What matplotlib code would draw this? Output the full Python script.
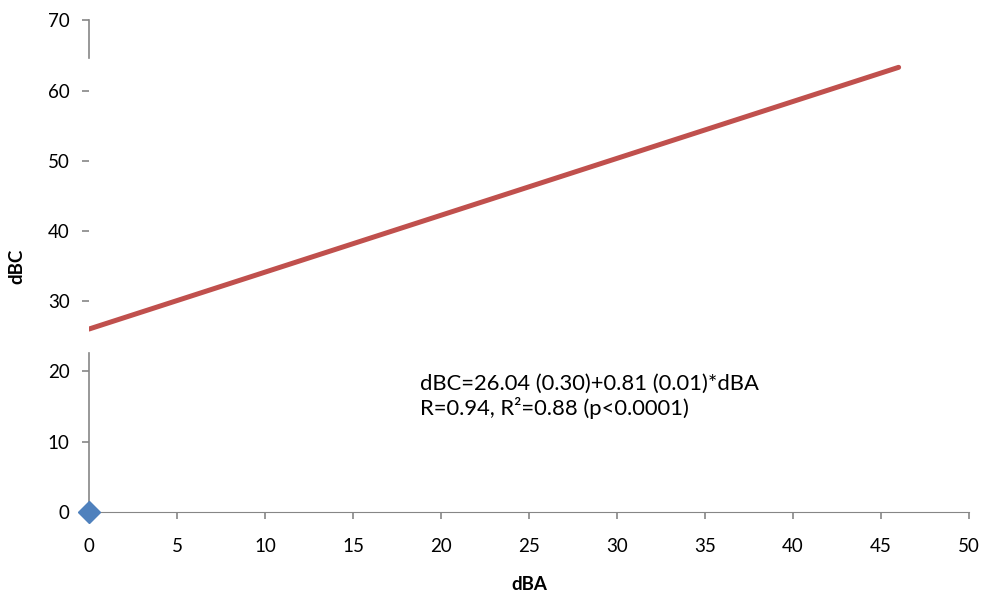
import numpy as np
import matplotlib.pyplot as plt

# fitted line and single observed point
dBA_fit = [0, 46]
intercept = 26.04
slope = 0.81
dBA_pts = [0]
dBC_pts = [0]
x_ticks = [0, 5, 10, 15, 20, 25, 30, 35, 40, 45, 50]
y_ticks = [0, 10, 20, 30, 40, 50, 60, 70]
note = "dBC=26.04 (0.30)+0.81 (0.01)*dBA\nR=0.94, R²=0.88 (p<0.0001)"

plt.rcParams['font.family'] = ['Lato', 'DejaVu Sans']
grey = '#868686'

fig = plt.figure(figsize=(9.82, 5.96), dpi=100)
ax = fig.add_axes([0.0906, 0.141, 0.8962, 0.825])

fit = np.array(dBA_fit)
ax.plot(fit, intercept + slope * fit, color='#C0504D', lw=3.6,
        solid_capstyle='round', zorder=3)
ax.plot(dBA_pts, dBC_pts, 'D', color='#4F81BD', ms=11.5, clip_on=False, zorder=4)

ax.set_xlim(0, 50)
ax.set_ylim(0, 70)
ax.set_xticks(x_ticks)
ax.set_yticks(y_ticks)

for s in ['top', 'right', 'left']:
    ax.spines[s].set_visible(False)
ax.spines['bottom'].set_color(grey)
# y axis line only shows in two pieces
ax.plot([0, 0], [0, 22.6], color=grey, lw=1.2, clip_on=False, zorder=2)
ax.plot([0, 0], [64.6, 70], color=grey, lw=1.2, clip_on=False, zorder=2)

ax.tick_params(axis='both', colors=grey, labelcolor='black', labelsize=13.5,
               length=5, width=1.2, direction='out')
ax.tick_params(axis='x', pad=14)
ax.tick_params(axis='y', pad=9)

ax.set_xlabel('dBA', fontsize=13.5, fontweight='bold', labelpad=15)
ax.set_ylabel('dBC', fontsize=13.5, fontweight='bold', labelpad=16)

ax.text(18.8, 16.4, note, fontsize=15.8, va='center', ha='left', linespacing=1.18)

fig.savefig('out.png', dpi=100)
